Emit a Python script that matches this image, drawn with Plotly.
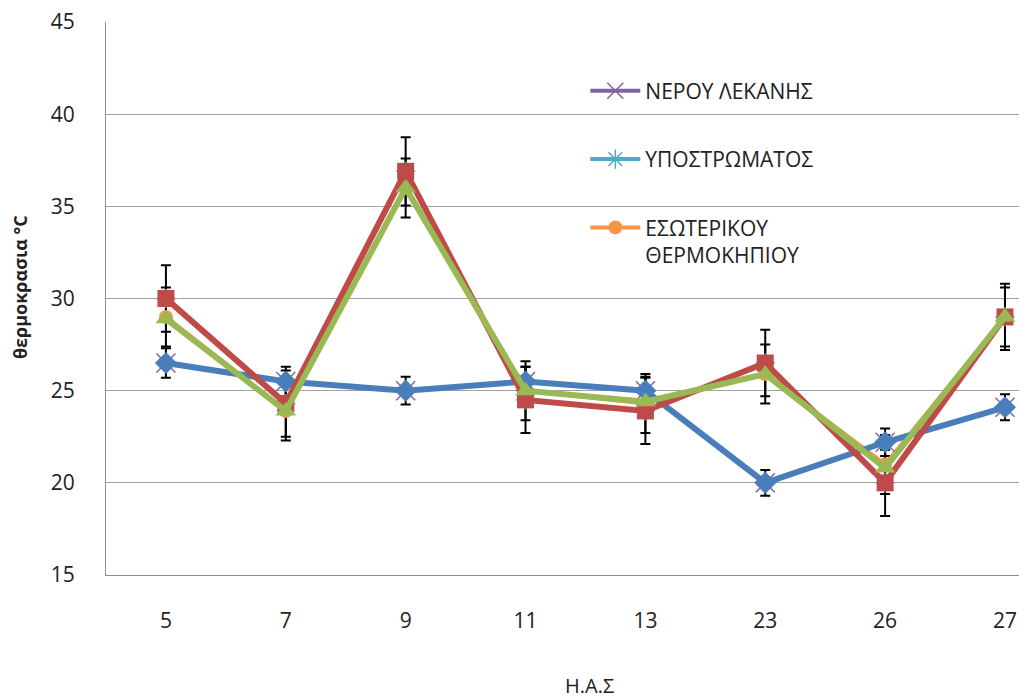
import plotly.graph_objects as go

categories = ["5", "7", "9", "11", "13", "23", "26", "27"]

# visible series (not in legend)
blue_vals = [26.5, 25.5, 25.0, 25.5, 25.0, 20.0, 22.2, 24.1]
blue_err = [0.8, 0.8, 0.75, 0.8, 0.75, 0.7, 0.75, 0.7]
red_vals = [30.0, 24.3, 36.9, 24.5, 23.9, 26.5, 20.0, 29.0]
red_err = [1.8, 1.8, 1.85, 1.8, 1.8, 1.8, 1.8, 1.8]
green_vals = [28.9, 23.9, 36.0, 25.0, 24.4, 25.9, 20.8, 29.0]

# legend series
nerou_vals = [26.5, 25.5, 25.0, 25.5, 25.0, 20.0, 22.2, 24.1]
ypostr_vals = [30.0, 24.3, 36.9, 24.5, 23.9, 26.5, 20.0, 29.0]
esot_vals = [29.0, 23.9, 36.0, 25.0, 24.3, 25.9, 21.0, 29.0]
esot_err = [1.6, 1.6, 1.6, 1.6, 1.6, 1.6, 1.6, 1.6]

names = ["ΝΕΡΟΥ ΛΕΚΑΝΗΣ", "ΥΠΟΣΤΡΩΜΑΤΟΣ", "ΕΣΩΤΕΡΙΚΟΥ<br>ΘΕΡΜΟΚΗΠΙΟΥ"]
y_ticks = [15, 20, 25, 30, 35, 40, 45]

FONT = "Open Sans"
fig = go.Figure()

# error bars (drawn beneath everything)
for vals, err in [(blue_vals, blue_err), (red_vals, red_err), (esot_vals, esot_err)]:
    fig.add_trace(go.Scatter(
        x=categories, y=vals, mode="markers",
        marker=dict(color="rgba(0,0,0,0)", size=2),
        error_y=dict(type="data", array=err, color="black", thickness=2, width=5),
        showlegend=False, hoverinfo="skip"))

# legend series
fig.add_trace(go.Scatter(
    x=categories, y=esot_vals, name=names[2], mode="lines+markers",
    line=dict(color="#F79646", width=4),
    marker=dict(symbol="circle", size=14, color="#F79646"),
    legendgroup="g3", legendrank=3))
fig.add_trace(go.Scatter(
    x=categories, y=ypostr_vals, name=names[1], mode="lines+markers",
    line=dict(color="#4BACC6", width=4),
    marker=dict(symbol="asterisk-open", size=16, line=dict(color="#7fc6dc", width=1.5)),
    legendgroup="g2", legendrank=2))
fig.add_trace(go.Scatter(
    x=categories, y=nerou_vals, name=names[0], mode="lines+markers",
    line=dict(color="#8064A2", width=4),
    marker=dict(symbol="x-thin-open", size=19, line=dict(color="#a894c8", width=1.5)),
    legendgroup="g1", legendrank=1))

# visible series
fig.add_trace(go.Scatter(
    x=categories, y=blue_vals, mode="lines+markers",
    line=dict(color="#4A7EBB", width=6),
    marker=dict(symbol="diamond", size=17, color="#4A7EBB"),
    showlegend=False))
fig.add_trace(go.Scatter(
    x=categories, y=red_vals, mode="lines+markers",
    line=dict(color="#BE4B48", width=6),
    marker=dict(symbol="square", size=17, color="#BE4B48"),
    showlegend=False))
fig.add_trace(go.Scatter(
    x=categories, y=green_vals, mode="lines+markers",
    line=dict(color="#98B954", width=6),
    marker=dict(symbol="triangle-up", size=18, color="#98B954"),
    showlegend=False))

fig.update_layout(
    width=1019, height=698,
    margin=dict(l=106, r=0, t=22, b=123),
    paper_bgcolor="white", plot_bgcolor="white",
    font=dict(family=FONT, color="#222222"),
    xaxis=dict(type="category", categoryorder="array", categoryarray=categories,
               range=[-0.5, 7.117], showgrid=False, zeroline=False,
               showline=True, linecolor="#8c8c8c", linewidth=1,
               ticks="outside", ticklen=27, tickcolor="rgba(0,0,0,0)",
               tickfont=dict(family=FONT, size=21, color="#222222")),
    yaxis=dict(range=[15, 45], tickvals=y_ticks, showgrid=True,
               gridcolor="#a0a0a0", gridwidth=1, zeroline=False,
               showline=True, linecolor="#8c8c8c", linewidth=1,
               ticks="outside", ticklen=26, tickcolor="rgba(0,0,0,0)",
               tickfont=dict(family=FONT, size=21, color="#222222")),
    legend=dict(x=0.525, y=0.912, xanchor="left", yanchor="top",
                bgcolor="rgba(0,0,0,0)", traceorder="grouped",
                tracegroupgap=38, valign="top", itemwidth=50,
                font=dict(family=FONT, size=21, color="#222222")),
    showlegend=True,
    annotations=[
        dict(text="Η.Α.Σ", xref="paper", yref="paper", x=0.530, y=-0.199,
             xanchor="center", yanchor="middle", showarrow=False,
             font=dict(family=FONT, size=20, color="#222222")),
        dict(text="<b>θερμοκρασια °C</b>", xref="paper", yref="paper",
             x=-0.094, y=0.521, xanchor="center", yanchor="middle",
             textangle=-90, showarrow=False,
             font=dict(family=FONT, size=18, color="#222222")),
    ],
)

fig.write_html("out.html")
